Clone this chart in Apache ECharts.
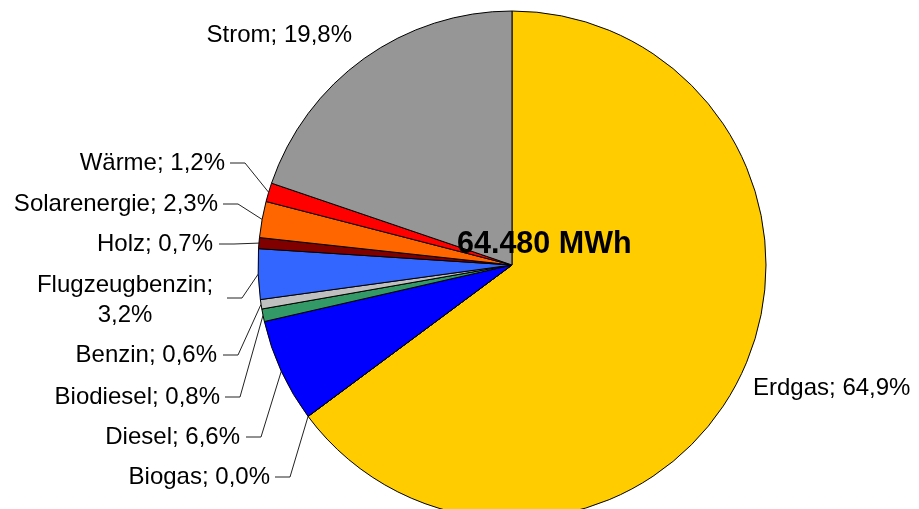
<!DOCTYPE html>
<html><head><meta charset="utf-8">
<script src="https://cdn.jsdelivr.net/npm/echarts@6/dist/echarts.min.js"></script>
<style>html,body{margin:0;padding:0;background:#fff}#c{width:919px;height:509px}</style>
</head><body><div id="c"></div>
<script>
// ---- data ----
const categories = ['Erdgas','Biogas','Diesel','Biodiesel','Benzin','Flugzeugbenzin','Holz','Solarenergie','Wärme','Strom'];
const shares = [64.9, 0.0, 6.6, 0.8, 0.6, 3.2, 0.7, 2.3, 1.2, 19.8];
const sliceColors = ['#FFCC00','#993366','#0000FF','#339966','#C0C0C0','#3366FF','#800000','#FF6600','#FF0000','#969696'];
const totalText = '64.480 MWh';
const wrapAfterName = ['Flugzeugbenzin'];

// ---- label layout (x, y, align, leader start x or null) ----
const labelX = [753, 270, 240, 220, 217, 125, 213, 218, 225, 352];
const labelY = [388, 477, 437, 397, 355, 300, 244, 204, 163, 35];
const labelAlign = ['left','right','right','right','right','center','right','right','right','right'];
const leaderStartX = [null, 275, 246, 225, 223, 227, 219, 223, 230, null];
const leaderY = [null, 477, 437, 397, 355, 298, 244, 204, 163, null];

const fmt = v => v.toFixed(1).replace('.', ',') + '%';

const chart = echarts.init(document.getElementById('c'), null, {renderer: 'canvas'});
chart.setOption({
  animation: false,
  backgroundColor: '#ffffff',
  graphic: [{
    type: 'text', z: 100, left: 457, top: 229,
    style: { text: totalText, fontFamily: 'Liberation Sans, Arial, sans-serif', fontWeight: 'bold', fontSize: 30.5, fill: '#000' }
  }],
  series: [{
    type: 'pie',
    center: [512, 265],
    radius: 254,
    startAngle: 90,
    clockwise: true,
    avoidLabelOverlap: false,
    minAngle: 0,
    itemStyle: { borderColor: '#000', borderWidth: 1 },
    label: {
      show: true, position: 'outside', color: '#000',
      fontFamily: 'Liberation Sans, Arial, sans-serif', fontSize: 24, lineHeight: 30,
      formatter: p => p.name + ';' + (wrapAfterName.includes(p.name) ? '\n' : ' ') + fmt(p.value)
    },
    labelLine: { show: true, length: 10, length2: 10, lineStyle: { color: '#222', width: 1 } },
    emphasis: { disabled: true },
    labelLayout: function (params) {
      const i = params.dataIndex;
      const out = { x: labelX[i], y: labelY[i], align: labelAlign[i], verticalAlign: 'middle' };
      if (leaderStartX[i] != null && params.labelLinePoints) {
        const a = params.labelLinePoints[0];
        out.labelLinePoints = [[a[0], a[1]], [leaderStartX[i] + 15, leaderY[i]], [leaderStartX[i], leaderY[i]]];
      }
      return out;
    },
    data: categories.map((n, i) => ({
      name: n, value: shares[i],
      itemStyle: { color: sliceColors[i] },
      labelLine: { show: leaderStartX[i] != null }
    }))
  }]
});
</script></body></html>
